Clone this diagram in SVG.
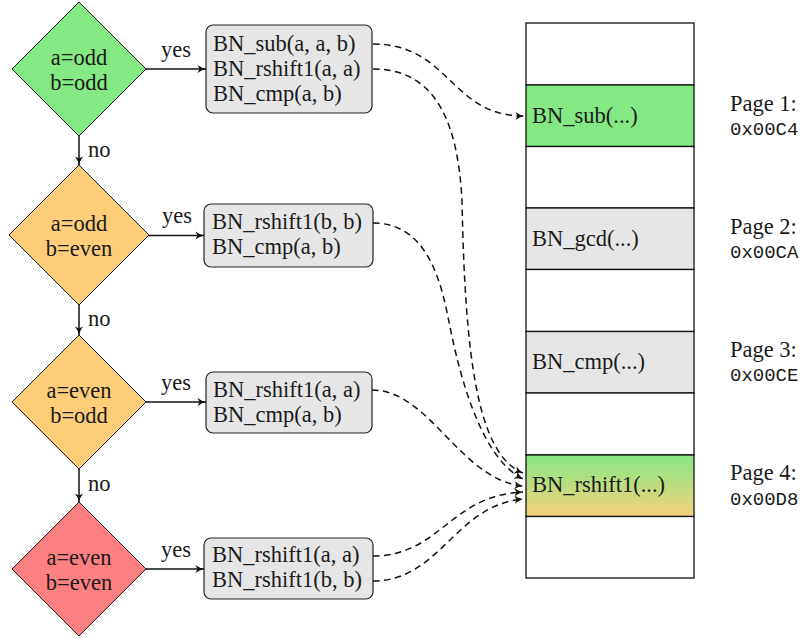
<svg xmlns="http://www.w3.org/2000/svg" width="802" height="638" viewBox="0 0 802 638">
  <style>
    .t { font-family: "Liberation Serif", "DejaVu Serif", serif; font-size: 22.5px; fill: #1a1a1a; }
    .m { font-family: "Liberation Mono", "DejaVu Sans Mono", monospace; font-size: 19px; fill: #1a1a1a; }
    .mid { text-anchor: middle; }
    .dia { stroke: #1a1a1a; stroke-width: 1; }
    .box { fill: #e6e6e6; stroke: #222; stroke-width: 1.2; }
    .cell { stroke: #111; stroke-width: 1.3; }
    .flow { fill: none; stroke: #111; stroke-width: 1.5; marker-end: url(#tip); }
    .link { fill: none; stroke: #111; stroke-width: 1.5; stroke-dasharray: 6.5 4.5; marker-end: url(#tip); }
  </style>
  <defs>
    <marker id="tip" markerUnits="userSpaceOnUse" viewBox="0 0 11 10" markerWidth="11" markerHeight="10" refX="10" refY="5" orient="auto">
      <path d="M10,5 Q5.5,4 1.5,1 L3.5,5 L1.5,9 Q5.5,6 10,5 Z" fill="#111"/>
    </marker>
    <linearGradient id="mix" x1="0" y1="0" x2="0" y2="1">
      <stop offset="0" stop-color="#86e784"/>
      <stop offset="1" stop-color="#f6d27c"/>
    </linearGradient>
  </defs>

  <!-- decision diamonds -->
  <g id="d1">
    <polygon class="dia" points="79,2 146,69 79,136 12,69" fill="#84e883"/>
    <text class="t mid" x="79" y="64.5">a=odd</text>
    <text class="t mid" x="79" y="89.5">b=odd</text>
  </g>
  <g id="d2">
    <polygon class="dia" points="79,165 149,235 79,305 9,235" fill="#fecd79"/>
    <text class="t mid" x="79" y="230.5">a=odd</text>
    <text class="t mid" x="79" y="255.5">b=even</text>
  </g>
  <g id="d3">
    <polygon class="dia" points="79,335 146,402 79,469 12,402" fill="#fecd79"/>
    <text class="t mid" x="79" y="397.5">a=even</text>
    <text class="t mid" x="79" y="422.5">b=odd</text>
  </g>
  <g id="d4">
    <polygon class="dia" points="79,502 146,569 79,636 12,569" fill="#ff8080"/>
    <text class="t mid" x="79" y="564.5">a=even</text>
    <text class="t mid" x="79" y="589.5">b=even</text>
  </g>

  <!-- call lists -->
  <g id="b1">
    <rect class="box" x="206" y="25" width="166" height="88" rx="7"/>
    <text class="t" x="213" y="51">BN_sub(a, a, b)</text>
    <text class="t" x="213" y="76">BN_rshift1(a, a)</text>
    <text class="t" x="213" y="101">BN_cmp(a, b)</text>
  </g>
  <g id="b2">
    <rect class="box" x="204" y="204" width="169" height="63" rx="7"/>
    <text class="t" x="212" y="229">BN_rshift1(b, b)</text>
    <text class="t" x="212" y="254">BN_cmp(a, b)</text>
  </g>
  <g id="b3">
    <rect class="box" x="206" y="372" width="166" height="61" rx="7"/>
    <text class="t" x="213" y="397">BN_rshift1(a, a)</text>
    <text class="t" x="213" y="422">BN_cmp(a, b)</text>
  </g>
  <g id="b4">
    <rect class="box" x="204" y="538" width="169" height="61" rx="7"/>
    <text class="t" x="212" y="562">BN_rshift1(a, a)</text>
    <text class="t" x="212" y="587">BN_rshift1(b, b)</text>
  </g>

  <!-- memory column -->
  <g id="memory">
    <rect class="cell" x="526" y="23" width="168" height="62" fill="#fff"/>
    <rect class="cell" x="526" y="85" width="168" height="61.5" fill="#84e883"/>
    <rect class="cell" x="526" y="146.5" width="168" height="61.5" fill="#fff"/>
    <rect class="cell" x="526" y="208" width="168" height="61.5" fill="#e6e6e6"/>
    <rect class="cell" x="526" y="269.5" width="168" height="62" fill="#fff"/>
    <rect class="cell" x="526" y="331.5" width="168" height="61.5" fill="#e6e6e6"/>
    <rect class="cell" x="526" y="393" width="168" height="62" fill="#fff"/>
    <rect class="cell" x="526" y="455" width="168" height="61.5" fill="url(#mix)"/>
    <rect class="cell" x="526" y="516.5" width="168" height="61.5" fill="#fff"/>
    <text class="t" x="532" y="122.5">BN_sub(...)</text>
    <text class="t" x="532" y="245.5">BN_gcd(...)</text>
    <text class="t" x="532" y="368.5">BN_cmp(...)</text>
    <text class="t" x="532" y="492">BN_rshift1(...)</text>
  </g>

  <!-- page addresses -->
  <g id="pages">
    <text class="t" x="730" y="111">Page 1:</text>
    <text class="m" x="730" y="135">0x00C4</text>
    <text class="t" x="730" y="234">Page 2:</text>
    <text class="m" x="730" y="258">0x00CA</text>
    <text class="t" x="730" y="357">Page 3:</text>
    <text class="m" x="730" y="381">0x00CE</text>
    <text class="t" x="730" y="480">Page 4:</text>
    <text class="m" x="730" y="505">0x00D8</text>
  </g>

  <!-- connectors -->
  <g id="connectors">
    <path class="flow" d="M146,69 H206"/>
    <path class="flow" d="M149,235.5 H204"/>
    <path class="flow" d="M146,402 H206"/>
    <path class="flow" d="M146,569 H204"/>
    <path class="flow" d="M79,136 V165"/>
    <path class="flow" d="M79,305 V335"/>
    <path class="flow" d="M79,469 V502"/>
    <text class="t mid" x="176" y="56.5">yes</text>
    <text class="t mid" x="177" y="223">yes</text>
    <text class="t mid" x="176" y="389.5">yes</text>
    <text class="t mid" x="176" y="556.5">yes</text>
    <text class="t" x="88" y="157">no</text>
    <text class="t" x="88" y="326">no</text>
    <text class="t" x="88" y="491">no</text>

    <path class="link" d="M373,44 C450,44 450,116 524,116"/>
    <path class="link" d="M373,69 C440,69 458,130 462,200 C465,360 478,455 523,473"/>
    <path class="link" d="M373,223 C425,223 440,277 448,317 C455,352 475,455 523,479"/>
    <path class="link" d="M372,390 C430,390 460,480 523,486"/>
    <path class="link" d="M373,556 C440,556 450,495 523,492"/>
    <path class="link" d="M373,581 C440,581 455,505 523,499"/>
  </g>
</svg>
